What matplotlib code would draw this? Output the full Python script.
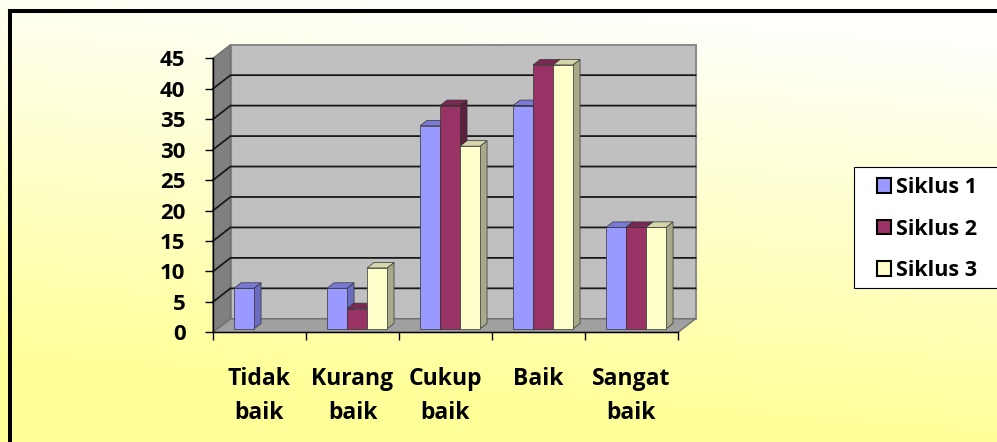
import numpy as np
import matplotlib
matplotlib.use("Agg")
import matplotlib.pyplot as plt
from matplotlib.patches import Polygon, Rectangle, Patch
from matplotlib.lines import Line2D
from matplotlib.transforms import blended_transform_factory

plt.rcParams['font.family'] = ['Open Sans', 'DejaVu Sans']
plt.rcParams['font.weight'] = 'bold'

# ── data ─────────────────────────────────────
kategori = [("Tidak", "baik"), ("Kurang", "baik"), ("Cukup", "baik"),
            ("Baik", ""), ("Sangat", "baik")]
seri = ["Siklus 1", "Siklus 2", "Siklus 3"]
siklus1 = [6.67, 6.67, 33.33, 36.67, 16.67]
siklus2 = [0, 3.33, 36.67, 43.33, 16.67]
siklus3 = [0, 10.0, 30.0, 43.33, 16.67]
yticks = list(range(0, 46, 5))

warna_depan = ["#9999FF", "#993366", "#FFFFCC"]
warna_samping = ["#6B6BC2", "#5C1F3D", "#A8A88A"]
warna_atas = ["#7A7AD6", "#7A2952", "#D6D6AB"]

W, H = 997, 442
fig = plt.figure(figsize=(W / 100, H / 100), dpi=100)

# background gradient (white top -> yellow bottom)
bg = fig.add_axes([0, 0, 1, 1], zorder=-10)
yy, xx = np.mgrid[0:1:200j, 0:1:200j]
t = np.clip(yy * 1.1 + 0.2 * (1 - xx) - 0.1, 0, 1)
top = np.array([1.0, 1.0, 0.99])
bot = np.array([1.0, 1.0, 0.6])
img = top[None, None, :] * (1 - t[..., None]) + bot[None, None, :] * t[..., None]
bg.imshow(img, aspect="auto", extent=[0, 1, 0, 1], origin="upper")
bg.axis("off")

# frame (only left and top visible)
fig.add_artist(Line2D([9.5 / W, 9.5 / W], [0, 1 - 10.5 / H], transform=fig.transFigure,
                      color="black", lw=2.9, solid_capstyle="projecting"))
fig.add_artist(Line2D([9.5 / W, 1], [1 - 10.5 / H, 1 - 10.5 / H], transform=fig.transFigure,
                      color="black", lw=2.9, solid_capstyle="projecting"))

# main axes: front plane of the 3d box
x_l, x_r, y_0, y_45 = 213, 678, 332.4, 58.3
ax = fig.add_axes([x_l / W, 1 - y_0 / H, (x_r - x_l) / W, (y_0 - y_45) / H])
ax.patch.set_visible(False)
n = len(kategori)
ax.set_xlim(0, n)
ax.set_ylim(0, 45)

DX = 17.5 / ((x_r - x_l) / n)
DY = 13.6 / ((y_0 - y_45) / 45)

# walls and floor
ax.add_patch(Polygon([(DX, DY), (n + DX, DY), (n + DX, 45 + DY), (DX, 45 + DY)],
                     closed=True, fc="#C0C0C0", ec="#8C8C8C", lw=1.5, clip_on=False, zorder=0.5))
ax.add_patch(Polygon([(0, 0), (DX, DY), (DX, 45 + DY), (0, 45)],
                     closed=True, fc="#808080", ec="#707070", lw=1, clip_on=False, zorder=0.5))
ax.add_patch(Polygon([(0, 0), (n, 0), (n + DX, DY), (DX, DY)],
                     closed=True, fc="#A0A0A0", ec="#707070", lw=1, clip_on=False, zorder=0.6))
for v in yticks[1:-1]:
    ax.plot([0, DX, n + DX], [v, v + DY, v + DY], color="#1A1A1A", lw=1.3,
            clip_on=False, zorder=0.8)

# bars
f0, fd = 0.26, 0.40
ox, oy = f0 * DX, f0 * DY
bx, by = fd * DX, fd * DY
lebar = 0.215
nilai = [siklus1, siklus2, siklus3]
kiri0 = (1 - lebar * 3) / 2
for i in range(n):
    for j in range(3):
        v = nilai[j][i]
        if v <= 0:
            continue
        x0 = i + kiri0 + j * lebar + ox
        xr = x0 + lebar
        ax.add_patch(Polygon([(xr, oy), (xr + bx, oy + by), (xr + bx, v + oy + by), (xr, v + oy)],
                             closed=True, fc=warna_samping[j], ec="#333333", lw=0.5,
                             clip_on=False, zorder=2))
        ax.add_patch(Polygon([(x0, v + oy), (xr, v + oy), (xr + bx, v + oy + by), (x0 + bx, v + oy + by)],
                             closed=True, fc=warna_atas[j], ec="#333333", lw=0.5,
                             clip_on=False, zorder=2))
for j in range(3):
    xs = np.arange(n) + kiri0 + j * lebar + ox
    b = ax.bar(xs, nilai[j], width=lebar, bottom=oy, align="edge", color=warna_depan[j],
               edgecolor="#333333", linewidth=0.5, zorder=3, clip_on=False)
    for p, v in zip(b.patches, nilai[j]):
        if v <= 0:
            p.set_visible(False)

# axes styling
for s in ["top", "right"]:
    ax.spines[s].set_visible(False)
for s in ["left", "bottom"]:
    ax.spines[s].set_color("black")
    ax.spines[s].set_linewidth(1)
    ax.spines[s].set_zorder(4)
ax.set_yticks(yticks)
ax.set_xticks(range(n + 1))
ax.set_xticklabels([""] * (n + 1))
ax.tick_params(axis="y", direction="out", length=5.8, width=1, pad=14, labelsize=16)
ax.tick_params(axis="x", direction="out", length=5.8, width=1)

# category labels (two lines)
trans = blended_transform_factory(ax.transData, fig.transFigure)
for i, (a, b2) in enumerate(kategori):
    ax.text(i + 0.5, 1 - 385 / H, a, transform=trans, ha="center", va="baseline", fontsize=16.5)
    if b2:
        ax.text(i + 0.5, 1 - 419 / H, b2, transform=trans, ha="center", va="baseline", fontsize=16.5)

# legend
fig.add_artist(Rectangle((854 / W, 1 - 288 / H), 160 / W, 121 / H, transform=fig.transFigure,
                         fc="white", ec="black", lw=0.8, zorder=5))
proxy = [Patch(facecolor=c, edgecolor="black", linewidth=1.5) for c in warna_depan]
leg = fig.legend(handles=proxy, labels=seri, loc="center left",
                 bbox_to_anchor=(877 / W, 1 - 229 / H), frameon=False, fontsize=15.5,
                 handlelength=0.65, handleheight=0.65, handletextpad=0.25, labelspacing=0.95,
                 borderpad=0, borderaxespad=0)
leg.set_zorder(6)

fig.savefig("out.png", dpi=100)
